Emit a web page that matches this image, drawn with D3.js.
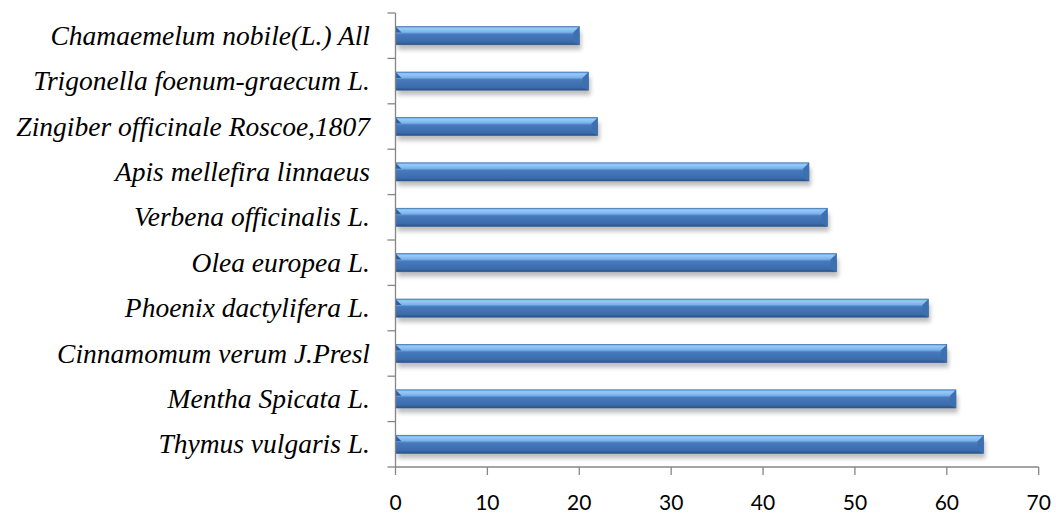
<!DOCTYPE html>
<html>
<head>
<meta charset="utf-8">
<script src="https://cdn.jsdelivr.net/npm/d3@7"></script>
<style>
  body { margin: 0; background: #fff; }
  svg { display: block; }
</style>
</head>
<body>
<svg id="chart" width="1056" height="513"></svg>
<script>
// categories listed top to bottom as in the chart
var species = [
  "Chamaemelum nobile(L.) All",
  "Trigonella foenum-graecum L.",
  "Zingiber officinale Roscoe,1807",
  "Apis mellefira linnaeus",
  "Verbena officinalis L.",
  "Olea europea L.",
  "Phoenix dactylifera L.",
  "Cinnamomum verum J.Presl",
  "Mentha Spicata L.",
  "Thymus vulgaris L."
];
var counts = [20, 21, 22, 45, 47, 48, 58, 60, 61, 64];
var xTicks = [0, 10, 20, 30, 40, 50, 60, 70];

var svg = d3.select("#chart");
var defs = svg.append("defs");

var x = d3.scaleLinear().domain([0, 70]).range([395.5, 1038.7]);
var y = d3.scaleBand().domain(species).range([13, 467]).paddingInner(0.6).paddingOuter(0.3);

// bar body gradient
var grad = defs.append("linearGradient").attr("id", "body").attr("x1", 0).attr("y1", 0).attr("x2", 0).attr("y2", 1);
grad.append("stop").attr("offset", "0%").attr("stop-color", "#5b9be0");
grad.append("stop").attr("offset", "10%").attr("stop-color", "#96caf8");
grad.append("stop").attr("offset", "30%").attr("stop-color", "#7cb3ec");
grad.append("stop").attr("offset", "42%").attr("stop-color", "#4779bd");
grad.append("stop").attr("offset", "85%").attr("stop-color", "#3b6baa");
grad.append("stop").attr("offset", "100%").attr("stop-color", "#284f82");

var blur = defs.append("filter").attr("id", "shadow").attr("x", "-5%").attr("y", "-50%").attr("width", "110%").attr("height", "250%");
blur.append("feGaussianBlur").attr("stdDeviation", 2.2);

var bars = svg.append("g").selectAll("g")
    .data(species)
    .enter().append("g");

var bh = y.bandwidth(), bev = 6;

// soft shadow underneath
bars.append("rect")
    .attr("x", x(0) + 2)
    .attr("y", function(d) { return y(d) + 5; })
    .attr("width", function(d, i) { return x(counts[i]) - x(0); })
    .attr("height", bh)
    .attr("fill", "#000")
    .attr("opacity", 0.25)
    .attr("filter", "url(#shadow)");

bars.append("rect")
    .attr("x", x(0))
    .attr("y", function(d) { return y(d); })
    .attr("width", function(d, i) { return x(counts[i]) - x(0); })
    .attr("height", bh)
    .attr("fill", "url(#body)")
    .attr("stroke", "#2f5f99")
    .attr("stroke-width", 0.6);

// bevel facets at the ends
bars.append("path")
    .attr("fill", "#3d70b0")
    .attr("d", function(d, i) {
        var x1 = x(counts[i]), y0 = y(d);
        return "M" + x1 + "," + y0 + "L" + (x1 - bev) + "," + (y0 + bev) + "L" + (x1 - bev) + "," + (y0 + bh - 3) + "L" + x1 + "," + (y0 + bh) + "Z";
    });
bars.append("path")
    .attr("fill", "#2f5f9a")
    .attr("d", function(d) {
        var x0 = x(0), y0 = y(d);
        return "M" + x0 + "," + y0 + "L" + (x0 + bev) + "," + (y0 + bev) + "L" + x0 + "," + (y0 + bev) + "Z";
    });

// axes
var axisColor = "#868686";
var ag = svg.append("g");
ag.append("line").attr("x1", x(0)).attr("x2", x(0)).attr("y1", 13).attr("y2", 467)
    .attr("stroke", axisColor).attr("stroke-width", 1.3);
ag.append("line").attr("x1", x(0)).attr("x2", x(70)).attr("y1", 467).attr("y2", 467)
    .attr("stroke", axisColor).attr("stroke-width", 1.3);

// category tick marks between bands
var bounds = species.map(function(d) { return y(d) - y.step() * y.paddingInner() / 2; });
bounds.push(467);
ag.selectAll(".ct").data(bounds).enter().append("line")
    .attr("x1", x(0) - 8).attr("x2", x(0))
    .attr("y1", function(d) { return d; }).attr("y2", function(d) { return d; })
    .attr("stroke", axisColor).attr("stroke-width", 1.3);

ag.selectAll(".vt").data(xTicks).enter().append("line")
    .attr("x1", function(d) { return x(d); }).attr("x2", function(d) { return x(d); })
    .attr("y1", 467).attr("y2", 475)
    .attr("stroke", axisColor).attr("stroke-width", 1.3);

svg.append("g").selectAll("text").data(xTicks).enter().append("text")
    .attr("x", function(d) { return x(d); })
    .attr("y", 510)
    .attr("text-anchor", "middle")
    .attr("font-family", "Lato, 'Open Sans', sans-serif")
    .attr("font-size", 21)
    .attr("fill", "#000")
    .text(function(d) { return d; });

svg.append("g").selectAll("text").data(species).enter().append("text")
    .attr("x", 370)
    .attr("y", function(d) { return y(d) + bh / 2 + 9; })
    .attr("text-anchor", "end")
    .attr("font-family", "'Liberation Serif'")
    .attr("font-style", "italic")
    .attr("font-size", 27.5)
    .attr("fill", "#000")
    .text(function(d) { return d; });
</script>
</body>
</html>
